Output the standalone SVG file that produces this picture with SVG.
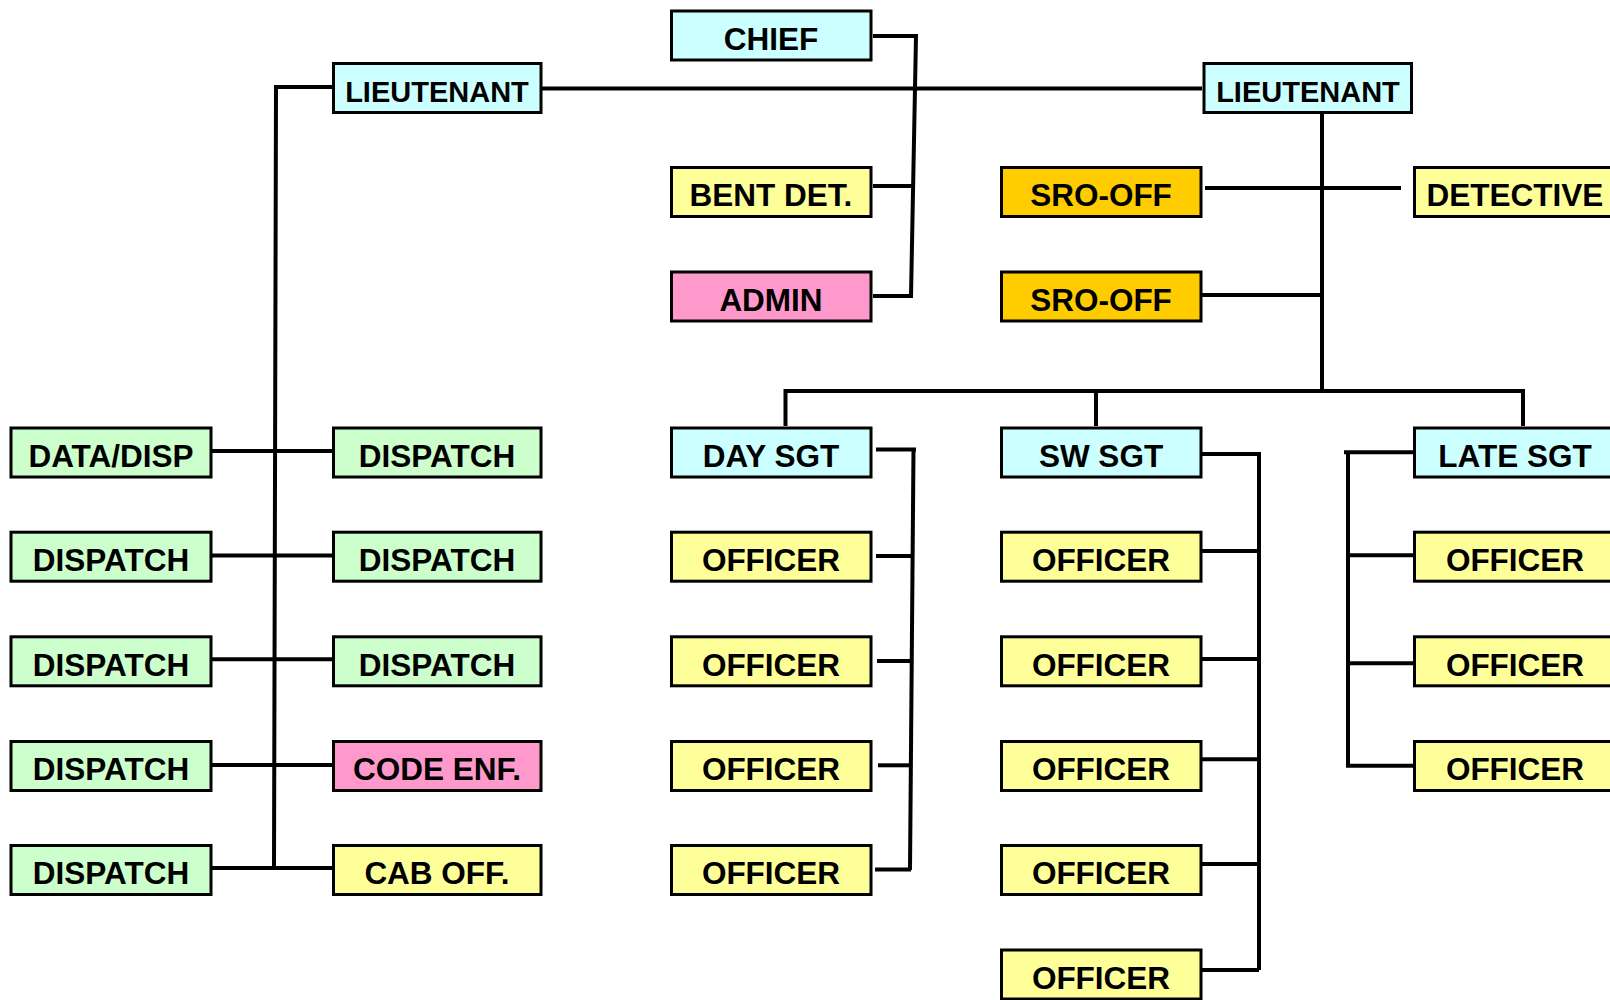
<svg xmlns="http://www.w3.org/2000/svg" width="1610" height="1000" viewBox="0 0 1610 1000">
<style>
.b{stroke:#000;stroke-width:3}
.cy{fill:#CCFFFF}.ye{fill:#FFFF99}.pk{fill:#FF99CC}.or{fill:#FFCC00}.gr{fill:#CCFFCC}
text{font-family:"Liberation Sans",Arial,sans-serif;font-weight:bold;font-size:31.5px;fill:#000;text-anchor:middle}
text.lt{font-size:29px}
.c path{fill:none;stroke:#000;stroke-width:4}
</style>
<rect width="1610" height="1000" fill="#fff"/>
<g class="c" id="connectors">
<path d="M873,36 H916 L911,296 H873"/>
<path d="M873,186 H913"/>
<path d="M542,88.5 H1202"/>
<path d="M332,87 H276 L274,868"/>
<path d="M212,451 H332"/>
<path d="M212,555.5 H332"/>
<path d="M212,659.3 H332"/>
<path d="M212,765 H332"/>
<path d="M212,868 H332"/>
<path d="M1322,113 V391"/>
<path d="M1205,188 H1401"/>
<path d="M1202,295 H1322"/>
<path d="M785.5,426 V391 H1523 V426"/>
<path d="M1096,391 V426"/>
<path d="M876,449.5 H916"/>
<path d="M913.5,449.5 L910,870"/>
<path d="M876,556 H911"/>
<path d="M877,661 H911"/>
<path d="M878,765.3 H910"/>
<path d="M875,869.5 H911"/>
<path d="M1199,454 H1259 V970"/>
<path d="M1200,551 H1259"/>
<path d="M1200,659 H1259"/>
<path d="M1199,759.3 H1259"/>
<path d="M1200,864 H1259"/>
<path d="M1199,970 H1259"/>
<path d="M1344,452.3 H1413"/>
<path d="M1348,452 V766"/>
<path d="M1348,555.3 H1416"/>
<path d="M1348,663.3 H1416"/>
<path d="M1346,765.7 H1413"/>
</g>
<g id="chief"><rect class="b cy" x="671.5" y="11" width="199.5" height="49"/><text x="771" y="49.5">CHIEF</text></g>
<g id="lt-left"><rect class="b cy" x="333.5" y="63.5" width="207.5" height="49"/><text class="lt" x="437" y="101.5">LIEUTENANT</text></g>
<g id="lt-right"><rect class="b cy" x="1204" y="63.5" width="207.5" height="49"/><text class="lt" x="1308" y="101.5">LIEUTENANT</text></g>
<g id="bent-det"><rect class="b ye" x="671.5" y="167.5" width="199.5" height="49"/><text x="771" y="206">BENT DET.</text></g>
<g id="admin"><rect class="b pk" x="671.5" y="272" width="199.5" height="49"/><text x="771" y="310.5">ADMIN</text></g>
<g id="sro1"><rect class="b or" x="1001.5" y="167.5" width="199.5" height="49"/><text x="1101" y="206">SRO-OFF</text></g>
<g id="sro2"><rect class="b or" x="1001.5" y="272" width="199.5" height="49"/><text x="1101" y="310.5">SRO-OFF</text></g>
<g id="detective"><rect class="b ye" x="1414.5" y="167.5" width="202" height="49"/><text x="1515" y="206">DETECTIVE</text></g>

<g id="a1"><rect class="b gr" x="11" y="428" width="200" height="49"/><text x="111" y="466.5">DATA/DISP</text></g>
<g id="a2"><rect class="b gr" x="11" y="532.2" width="200" height="49"/><text x="111" y="571">DISPATCH</text></g>
<g id="a3"><rect class="b gr" x="11" y="636.8" width="200" height="49"/><text x="111" y="675.5">DISPATCH</text></g>
<g id="a4"><rect class="b gr" x="11" y="741.5" width="200" height="49"/><text x="111" y="780">DISPATCH</text></g>
<g id="a5"><rect class="b gr" x="11" y="845.5" width="200" height="49"/><text x="111" y="884">DISPATCH</text></g>

<g id="b1"><rect class="b gr" x="333.5" y="428" width="207.5" height="49"/><text x="437" y="466.5">DISPATCH</text></g>
<g id="b2"><rect class="b gr" x="333.5" y="532.2" width="207.5" height="49"/><text x="437" y="571">DISPATCH</text></g>
<g id="b3"><rect class="b gr" x="333.5" y="636.8" width="207.5" height="49"/><text x="437" y="675.5">DISPATCH</text></g>
<g id="b4"><rect class="b pk" x="333.5" y="741.5" width="207.5" height="49"/><text x="437" y="780">CODE ENF.</text></g>
<g id="b5"><rect class="b ye" x="333.5" y="845.5" width="207.5" height="49"/><text x="437" y="884">CAB OFF.</text></g>

<g id="day-sgt"><rect class="b cy" x="671.5" y="428" width="199.5" height="49"/><text x="771" y="466.5">DAY SGT</text></g>
<g id="c2"><rect class="b ye" x="671.5" y="532.2" width="199.5" height="49"/><text x="771" y="571">OFFICER</text></g>
<g id="c3"><rect class="b ye" x="671.5" y="636.8" width="199.5" height="49"/><text x="771" y="675.5">OFFICER</text></g>
<g id="c4"><rect class="b ye" x="671.5" y="741.5" width="199.5" height="49"/><text x="771" y="780">OFFICER</text></g>
<g id="c5"><rect class="b ye" x="671.5" y="845.5" width="199.5" height="49"/><text x="771" y="884">OFFICER</text></g>

<g id="sw-sgt"><rect class="b cy" x="1001.5" y="428" width="199.5" height="49"/><text x="1101" y="466.5">SW SGT</text></g>
<g id="d2"><rect class="b ye" x="1001.5" y="532.2" width="199.5" height="49"/><text x="1101" y="571">OFFICER</text></g>
<g id="d3"><rect class="b ye" x="1001.5" y="636.8" width="199.5" height="49"/><text x="1101" y="675.5">OFFICER</text></g>
<g id="d4"><rect class="b ye" x="1001.5" y="741.5" width="199.5" height="49"/><text x="1101" y="780">OFFICER</text></g>
<g id="d5"><rect class="b ye" x="1001.5" y="845.5" width="199.5" height="49"/><text x="1101" y="884">OFFICER</text></g>
<g id="d6"><rect class="b ye" x="1001.5" y="950" width="199.5" height="49"/><text x="1101" y="988.5">OFFICER</text></g>

<g id="late-sgt"><rect class="b cy" x="1414.5" y="428" width="202" height="49"/><text x="1515" y="466.5">LATE SGT</text></g>
<g id="e2"><rect class="b ye" x="1414.5" y="532.2" width="202" height="49"/><text x="1515" y="571">OFFICER</text></g>
<g id="e3"><rect class="b ye" x="1414.5" y="636.8" width="202" height="49"/><text x="1515" y="675.5">OFFICER</text></g>
<g id="e4"><rect class="b ye" x="1414.5" y="741.5" width="202" height="49"/><text x="1515" y="780">OFFICER</text></g>
</svg>
